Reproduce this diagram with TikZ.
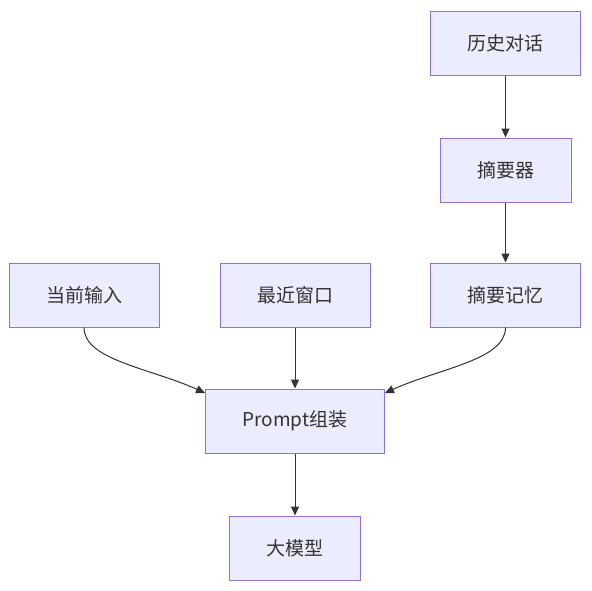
\documentclass[tikz,border=0pt]{standalone}
\usepackage{fontspec}
\newfontfamily\cjk{Noto Sans CJK SC}
\usepackage{tikz}
\usetikzlibrary{arrows.meta, positioning}

\definecolor{boxfill}{HTML}{ECECFF}
\definecolor{boxline}{HTML}{9370DB}
\definecolor{edgeline}{HTML}{333333}

\begin{document}
\begin{tikzpicture}[x=1pt, y=-1pt, >={Triangle[length=9pt, width=8pt]},
	block/.style={rectangle, draw=boxline, fill=boxfill, line width=1pt,
		minimum height=64pt, inner xsep=37pt, text=edgeline,
		font=\cjk\fontsize{19}{22}\selectfont},
	flow/.style={->, draw=edgeline, line width=1pt}
	]
	
	\useasboundingbox (0,0) rectangle (592,590);
	
	% 1. Summary branch
	\node[block] (hist) at (505.5,43) {历史对话};
	\node[block] (summarizer) at (505.5,170) {摘要器};
	\node[block] (summem) at (505.5,295) {摘要记忆};
	
	% 2. Inputs
	\node[block] (curin) at (84,295) {当前输入};
	\node[block] (recent) at (295,295) {最近窗口};
	
	% 3. Assembly and model
	\node[block] (prompt) at (295,421) {Prompt组装};
	\node[block] (llm) at (295,548) {大模型};
	
	% 4. Connectors
	\draw[flow] (hist) -- (summarizer);
	\draw[flow] (summarizer) -- (summem);
	\draw[flow] (curin.south) .. controls (84,360) and (150,368) .. (prompt.north west |- 0,393);
	\draw[flow] (recent) -- (prompt);
	\draw[flow] (summem.south) .. controls (505.5,360) and (440,368) .. (prompt.north east |- 0,393);
	\draw[flow] (prompt) -- (llm);
	
\end{tikzpicture}
\end{document}
